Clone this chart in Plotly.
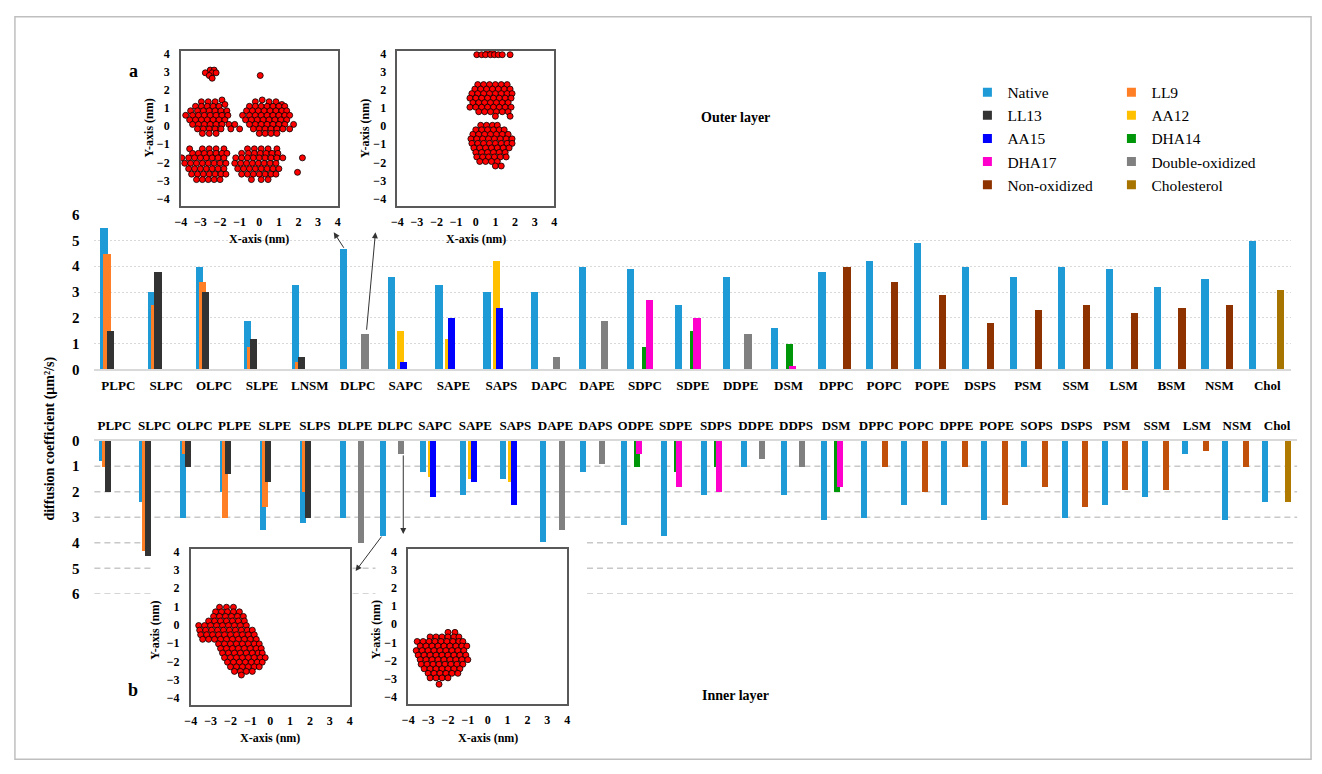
import plotly.graph_objects as go

W, H = 1322, 774

# ---------------- DATA ----------------
series_names = ["Native", "LL9", "LL13", "AA12", "AA15", "DHA14", "DHA17",
                "Double-oxidized", "Non-oxidized", "Cholesterol"]

cats_outer = ["PLPC", "SLPC", "OLPC", "SLPE", "LNSM", "DLPC", "SAPC", "SAPE", "SAPS",
              "DAPC", "DAPE", "SDPC", "SDPE", "DDPE", "DSM", "DPPC", "POPC", "POPE",
              "DSPS", "PSM", "SSM", "LSM", "BSM", "NSM", "Chol"]
N = None
native_outer = [5.5, 3.0, 4.0, 1.9, 3.3, 4.7, 3.6, 3.3, 3.0, 3.0, 4.0, 3.9, 2.5, 3.6, 1.6,
                3.8, 4.2, 4.9, 4.0, 3.6, 4.0, 3.9, 3.2, 3.5, 5.0]
ll9_outer = [4.5, 2.5, 3.4, 0.9, 0.3] + [N] * 20
ll13_outer = [1.5, 3.8, 3.0, 1.2, 0.5] + [N] * 20
aa12_outer = [N] * 6 + [1.5, 1.2, 4.2] + [N] * 16
aa15_outer = [N] * 6 + [0.3, 2.0, 2.4] + [N] * 16
dha14_outer = [N] * 11 + [0.9, 1.5, N, 1.0] + [N] * 10
dha17_outer = [N] * 11 + [2.7, 2.0, N, 0.15] + [N] * 10
dox_outer = [N] * 5 + [1.4] + [N] * 3 + [0.5, 1.9, N, N, 1.4] + [N] * 11
nonox_outer = [N] * 15 + [4.0, 3.4, 2.9, 1.8, 2.3, 2.5, 2.2, 2.4, 2.5, N]
chol_outer = [N] * 24 + [3.1]

cats_inner = ["PLPC", "SLPC", "OLPC", "PLPE", "SLPE", "SLPS", "DLPE", "DLPC", "SAPC", "SAPE",
              "SAPS", "DAPE", "DAPS", "ODPE", "SDPE", "SDPS", "DDPE", "DDPS", "DSM", "DPPC",
              "POPC", "DPPE", "POPE", "SOPS", "DSPS", "PSM", "SSM", "LSM", "NSM", "Chol"]
native_inner = [0.8, 2.4, 3.0, 2.0, 3.5, 3.2, 3.0, 3.7, 1.2, 2.1, 1.5, 3.95, 1.2, 3.3, 3.7,
                2.1, 1.0, 2.1, 3.1, 3.0, 2.5, 2.5, 3.1, 1.0, 3.0, 2.5, 2.2, 0.5, 3.1, 2.4]
ll9_inner = [1.0, 4.3, 0.5, 3.0, 2.6, 2.0] + [N] * 24
ll13_inner = [2.0, 4.5, 1.0, 1.3, 1.6, 3.0] + [N] * 24
aa12_inner = [N] * 8 + [1.4, 1.5, 1.6] + [N] * 19
aa15_inner = [N] * 8 + [2.2, 1.6, 2.5] + [N] * 19
dha14_inner = [N] * 13 + [1.0, 1.2, 1.0, N, N, 2.0] + [N] * 11
dha17_inner = [N] * 13 + [0.5, 1.8, 2.0, N, N, 1.8] + [N] * 11
dox_inner = [N] * 6 + [4.0, 0.5, N, N, N, 3.5, 0.9, N, N, N, 0.7, 1.0] + [N] * 12
nonox_inner = [N] * 19 + [1.0, 2.0, 1.0, 2.5, 1.8, 2.6, 1.9, 1.9, 0.4, 1.0, N]
chol_inner = [N] * 29 + [2.4]

outer_values = [native_outer, ll9_outer, ll13_outer, aa12_outer, aa15_outer, dha14_outer,
                dha17_outer, dox_outer, nonox_outer, chol_outer]
inner_values = [native_inner, ll9_inner, ll13_inner, aa12_inner, aa15_inner, dha14_inner,
                dha17_inner, dox_inner, nonox_inner, chol_inner]

y_ticks = [0, 1, 2, 3, 4, 5, 6]
inset_ticks = [-4, -3, -2, -1, 0, 1, 2, 3, 4]

# inset point clouds (rows of markers: (y, [x...]))
tl_rows = [
    (3.1, [-2.5, -2.3]), (2.95, [-2.75, -2.4, -2.2]), (2.8, [-2.55, 0.05]), (2.65, [-2.4]),
    (1.45, [-1.9, 0.15]),
    (1.35, [-2.95, -2.6, -2.25, -0.2, 0.5, 0.85]),
    (1.2, [-1.75, 1.15]),
    (1.1, [-3.25, -2.95, -2.65, -2.35, -2.05, -0.5, -0.2, 0.1, 0.4, 0.7, 1.0, 1.3]),
    (0.85, [-3.5, -3.15, -2.85, -2.55, -2.25, -1.95, -1.65, -0.65, -0.35, -0.05, 0.25, 0.55, 0.85, 1.15, 1.4]),
    (0.6, [-3.75, -3.4, -3.1, -2.8, -2.5, -2.2, -1.9, -1.6, -0.85, -0.5, -0.2, 0.1, 0.4, 0.7, 1.0, 1.3, 1.55]),
    (0.35, [-3.55, -3.25, -2.95, -2.65, -2.35, -2.05, -1.75, -0.7, -0.4, -0.1, 0.2, 0.5, 0.8, 1.1, 1.4]),
    (0.1, [-3.4, -3.1, -2.8, -2.5, -2.2, -1.9, -1.55, -1.25, -0.5, -0.2, 0.1, 0.4, 0.7, 1.0, 1.3, 1.75]),
    (-0.15, [-3.15, -2.85, -2.55, -2.25, -1.95, -1.45, -1.0, -0.3, 0.0, 0.3, 0.6, 0.9, 1.2, 1.55]),
    (-0.4, [-2.9, -2.55, -2.2, 0.0, 0.3, 0.6, 0.9]),
    (-1.25, [-3.55, -2.9, -2.55, -2.2, -1.8, -0.6, -0.25, 0.1, 0.45, 0.9]),
    (-1.5, [-3.4, -3.1, -2.8, -2.5, -2.2, -1.9, -1.65, -0.9, -0.55, -0.25, 0.05, 0.35, 0.65, 0.95]),
    (-1.75, [-3.95, -3.6, -3.3, -3.0, -2.7, -2.4, -2.1, -1.8, -1.2, -0.9, -0.6, -0.3, 0.0, 0.3, 0.6, 0.9, 1.2, 2.2]),
    (-2.05, [-3.8, -3.5, -3.2, -2.9, -2.6, -2.3, -2.0, -1.7, -1.25, -0.95, -0.65, -0.35, -0.05, 0.25, 0.55, 0.85]),
    (-2.35, [-3.6, -3.3, -3.0, -2.7, -2.4, -2.1, -1.8, -1.1, -0.8, -0.5, -0.2, 0.1, 0.4, 0.7, 1.0]),
    (-2.55, [1.95]),
    (-2.65, [-3.45, -3.15, -2.85, -2.55, -2.25, -1.95, -1.7, -0.9, -0.6, -0.3, 0.0, 0.3, 0.6, 0.85]),
    (-2.95, [-3.2, -2.9, -2.6, -2.3, -2.0, -0.4, 0.1, 0.45]),
]
tr_rows = [
    (4.1, [0.6, 0.85]),
    (3.95, [0.05, 0.3, 0.5, 0.75, 0.95, 1.15, 1.35, 1.75]),
    (2.3, [0.1, 0.4, 0.7, 1.0, 1.3, 1.6]),
    (2.05, [-0.05, 0.25, 0.55, 0.85, 1.15, 1.45, 1.75]),
    (1.8, [-0.2, 0.1, 0.4, 0.7, 1.0, 1.3, 1.6, 1.85]),
    (1.55, [-0.3, 0.0, 0.3, 0.6, 0.9, 1.2, 1.5, 1.8]),
    (1.3, [-0.15, 0.15, 0.45, 0.75, 1.05, 1.35, 1.65]),
    (1.05, [-0.3, 0.0, 0.3, 0.6, 0.9, 1.2, 1.5, 1.8]),
    (0.8, [0.15, 0.45, 0.75, 1.05, 1.35, 1.65]),
    (0.55, [1.0, 1.75]),
    (0.05, [0.25, 0.55, 0.85, 1.1]),
    (-0.2, [0.0, 0.3, 0.6, 0.9, 1.2, 1.45]),
    (-0.45, [-0.15, 0.15, 0.45, 0.75, 1.05, 1.35, 1.65]),
    (-0.7, [-0.25, 0.05, 0.35, 0.65, 0.95, 1.25, 1.55, 1.85]),
    (-0.95, [-0.2, 0.1, 0.4, 0.7, 1.0, 1.3, 1.6, 1.85]),
    (-1.2, [-0.1, 0.2, 0.5, 0.8, 1.1, 1.4, 1.7]),
    (-1.45, [0.0, 0.3, 0.6, 0.9, 1.2, 1.5]),
    (-1.7, [0.05, 0.35, 0.65, 0.95, 1.25, 1.55]),
    (-1.95, [0.2, 0.5, 0.8, 1.1]),
    (-2.2, [1.0, 1.3]),
]
bl_rows = [
    (0.95, [-2.55, -2.2, -1.85]),
    (0.7, [-2.75, -2.45, -2.15, -1.85, -1.55]),
    (0.45, [-2.85, -2.55, -2.25, -1.95, -1.65, -1.35]),
    (0.2, [-3.1, -2.8, -2.5, -2.2, -1.9, -1.6, -1.3]),
    (-0.05, [-3.6, -3.3, -3.0, -2.7, -2.4, -2.1, -1.8, -1.5, -1.2]),
    (-0.3, [-3.55, -3.25, -2.95, -2.65, -2.35, -2.05, -1.75, -1.45, -1.15, -0.9]),
    (-0.55, [-3.5, -3.2, -2.9, -2.6, -2.3, -2.0, -1.7, -1.4, -1.1, -0.8]),
    (-0.8, [-3.4, -3.1, -2.8, -2.5, -2.2, -1.9, -1.6, -1.3, -1.0, -0.7]),
    (-1.05, [-2.6, -2.3, -2.0, -1.7, -1.4, -1.1, -0.8, -0.55]),
    (-1.3, [-2.5, -2.2, -1.9, -1.6, -1.3, -1.0, -0.7, -0.45]),
    (-1.55, [-2.4, -2.1, -1.8, -1.5, -1.2, -0.9, -0.6, -0.4]),
    (-1.8, [-2.3, -2.0, -1.7, -1.4, -1.1, -0.8, -0.5, -0.25]),
    (-2.05, [-2.15, -1.85, -1.55, -1.25, -0.95, -0.65, -0.4]),
    (-2.3, [-2.0, -1.7, -1.4, -1.1, -0.8, -0.55]),
    (-2.55, [-1.8, -1.5, -1.2, -0.9]),
    (-2.75, [-1.45]),
]
br_rows = [
    (-0.45, [-2.0, -1.65]),
    (-0.7, [-2.9, -2.6, -2.3, -2.0, -1.7, -1.45]),
    (-0.95, [-3.55, -3.25, -2.95, -2.65, -2.35, -2.05, -1.75, -1.45, -1.25]),
    (-1.2, [-3.4, -3.1, -2.8, -2.5, -2.2, -1.9, -1.6, -1.3, -1.05]),
    (-1.45, [-3.6, -3.3, -3.0, -2.7, -2.4, -2.1, -1.8, -1.5, -1.2]),
    (-1.7, [-3.5, -3.2, -2.9, -2.6, -2.3, -2.0, -1.7, -1.4, -1.1]),
    (-1.95, [-3.4, -3.1, -2.8, -2.5, -2.2, -1.9, -1.6, -1.3, -1.0]),
    (-2.2, [-3.35, -3.05, -2.75, -2.45, -2.15, -1.85, -1.55, -1.25]),
    (-2.45, [-3.2, -2.9, -2.6, -2.3, -2.0, -1.7, -1.4]),
    (-2.7, [-3.0, -2.7, -2.4, -2.1, -1.8, -1.5]),
    (-2.95, [-2.9, -2.6, -2.3, -2.0]),
    (-3.3, [-2.45]),
]

# ---------------- STYLE ----------------
colors_outer = ["#1E9BD7", "#FF7F27", "#333333", "#FFC000", "#0000FF", "#00960A",
                "#FF00CC", "#808080", "#8E3200", "#A87400"]
colors_inner = ["#1E9BD7", "#FF7F27", "#333333", "#FFC000", "#0000FF", "#00960A",
                "#FF00CC", "#808080", "#C0500A", "#B07A00"]
legend_colors = ["#1E9BD7", "#FF7F27", "#333333", "#FFC000", "#0000FF", "#00960A",
                 "#FF00CC", "#808080", "#8E3200", "#A87400"]
SERIF = "Liberation Serif"


def px(x):
    return x / W


def py(y):
    return 1 - y / H


def flatten(rows):
    xs, ys = [], []
    for yy, row in rows:
        xs += row
        ys += [yy] * len(row)
    return xs, ys


fig = go.Figure()

step, bw = 0.065, 0.15
for k, name in enumerate(series_names):
    off = (k - 4.5) * step - bw / 2
    fig.add_trace(go.Bar(x=cats_outer, y=outer_values[k], xaxis="x", yaxis="y",
                         offset=off, width=bw, name=name, showlegend=False,
                         marker=dict(color=colors_outer[k], line=dict(width=0))))
    fig.add_trace(go.Bar(x=cats_inner, y=inner_values[k], xaxis="x2", yaxis="y2",
                         offset=off, width=bw, name=name, showlegend=False,
                         marker=dict(color=colors_inner[k], line=dict(width=0))))

# legend entries (two columns, row-wise order like the original)
left_col = [0, 2, 4, 6, 8]
for k in range(10):
    fig.add_trace(go.Scatter(x=[None], y=[None], mode="markers", xaxis="x", yaxis="y",
                             name=series_names[k],
                             legend="legend" if k in left_col else "legend2",
                             marker=dict(symbol="square", size=9, color=legend_colors[k])))

# insets
for rows, ax in [(tl_rows, "3"), (tr_rows, "4"), (bl_rows, "5"), (br_rows, "6")]:
    xs, ys = flatten(rows)
    fig.add_trace(go.Scatter(x=xs, y=ys, mode="markers", xaxis="x" + ax, yaxis="y" + ax,
                             showlegend=False, hoverinfo="skip",
                             marker=dict(color="#FF0000", size=6,
                                         line=dict(color="black", width=0.8))))

bold = dict(family=SERIF, color="black", weight="bold")

layout = dict(
    width=W, height=H, margin=dict(l=0, r=0, t=0, b=0),
    paper_bgcolor="white", plot_bgcolor="rgba(0,0,0,0)",
    barmode="overlay", bargap=0,
    font=dict(family=SERIF, color="black"),
    xaxis=dict(domain=[px(89), px(1294)], anchor="y", type="category",
               range=[-0.5, len(cats_outer) - 0.5], showgrid=False, ticks="",
               showline=True, linecolor="#D9D9D9", linewidth=1.5,
               tickfont=dict(size=13, **bold), ticklabelstandoff=3, fixedrange=True),
    yaxis=dict(domain=[py(369), py(211)], anchor="x", range=[0, 6], tickvals=y_ticks,
               showgrid=True, gridcolor="#D9D9D9", griddash="2px,2px", gridwidth=1,
               zeroline=False, ticks="", tickfont=dict(size=15, **bold),
               ticklabelstandoff=14),
    xaxis2=dict(domain=[px(89), px(1300)], anchor="y2", type="category", side="top",
                range=[-0.5, len(cats_inner) - 0.5], showgrid=False, ticks="",
                showline=True, linecolor="#D9D9D9", linewidth=1.5,
                tickfont=dict(size=13, **bold), ticklabelstandoff=4),
    yaxis2=dict(domain=[py(598.3), py(441.7)], anchor="x2", range=[6, 0], tickvals=y_ticks,
                showgrid=False, zeroline=False, ticks="", tickfont=dict(size=15, **bold),
                ticklabelstandoff=14),
    legend=dict(x=px(968), y=py(69), xanchor="left", yanchor="top",
                bgcolor="rgba(0,0,0,0)", font=dict(family=SERIF, size=15.5, color="black"),
                itemclick=False, itemdoubleclick=False),
    legend2=dict(x=px(1113), y=py(69), xanchor="left", yanchor="top",
                 bgcolor="rgba(0,0,0,0)", font=dict(family=SERIF, size=15.5, color="black"),
                 itemclick=False, itemdoubleclick=False),
)

inset_boxes = {
    "3": (176, 334, 44, 202),
    "4": (394, 552, 44, 202),
    "5": (186, 346, 552, 712),
    "6": (405, 565, 552, 711),
}
for ax, (x0, x1, y0, y1) in inset_boxes.items():
    layout["xaxis" + ax] = dict(domain=[px(x0), px(x1)], anchor="y" + ax, range=[-4, 4],
                                tickvals=inset_ticks, showgrid=False, zeroline=False,
                                ticks="", showline=True, mirror=True, linecolor="#595959",
                                linewidth=1.5, tickfont=dict(size=12, **bold),
                                ticklabelstandoff=4)
    layout["yaxis" + ax] = dict(domain=[py(y1), py(y0)], anchor="x" + ax, range=[-4.4, 4.15],
                                tickvals=inset_ticks, showgrid=False, zeroline=False,
                                ticks="", showline=True, mirror=True, linecolor="#595959",
                                linewidth=1.5, tickfont=dict(size=12, **bold),
                                ticklabelstandoff=7)

fig.update_layout(**layout)

# inner-layer dashed gridlines (partly hidden behind the inset snapshots)
grid_segments = {
    1: [(89, 1300)], 2: [(89, 1300)], 3: [(89, 1300)],
    4: [(89, 146), (585, 1300)],
    5: [(89, 146), (349, 372), (585, 1300)],
    6: [(89, 146), (349, 372), (585, 1300)],
}
shapes = []
for val, segs in grid_segments.items():
    for a, b in segs:
        shapes.append(dict(type="line", xref="paper", yref="y2", x0=px(a), x1=px(b),
                           y0=val, y1=val, layer="below",
                           line=dict(color="#C8C8C8", width=1.5, dash="6px,4px")))
shapes.append(dict(type="rect", xref="paper", yref="paper", x0=px(9), x1=px(1314),
                   y0=py(767), y1=py(9), line=dict(color="#BFBFBF", width=1.5)))
fig.update_layout(shapes=shapes)

ann = []


def text_ann(x, y, t, size, angle=0):
    ann.append(dict(x=px(x), y=py(y), xref="paper", yref="paper", text=t, showarrow=False,
                    textangle=angle, xanchor="center", yanchor="middle",
                    font=dict(size=size, **bold)))


text_ann(735, 112, "Outer layer", 14)
text_ann(735, 702, "Inner layer", 14)
text_ann(128, 64, "a", 18)
text_ann(128, 696, "b", 18)
text_ann(44, 440, "diffusion coefficient (μm²/s)", 14, -90)
text_ann(255, 236, "X-axis (nm)", 12)
text_ann(473, 236, "X-axis (nm)", 12)
text_ann(266, 745, "X-axis (nm)", 12)
text_ann(485, 745, "X-axis (nm)", 12)
text_ann(144, 123, "Y-axis (nm)", 12, -90)
text_ann(362, 123, "Y-axis (nm)", 12, -90)
text_ann(150, 635, "Y-axis (nm)", 12, -90)
text_ann(372, 635, "Y-axis (nm)", 12, -90)


def arrow(hx, hy, tx, ty):
    ann.append(dict(x=px(hx), y=py(hy), xref="paper", yref="paper", text="",
                    showarrow=True, axref="pixel", ayref="pixel", ax=tx - hx, ay=ty - hy,
                    arrowhead=2, arrowsize=1.2, arrowwidth=1, arrowcolor="#333333",
                    standoff=0, startstandoff=0))


arrow(330, 229, 341, 246)
arrow(372, 229, 363, 328)
arrow(352, 575, 379, 539)
arrow(400, 537, 400, 457)

fig.update_layout(annotations=ann)

fig.write_html("out.html")
